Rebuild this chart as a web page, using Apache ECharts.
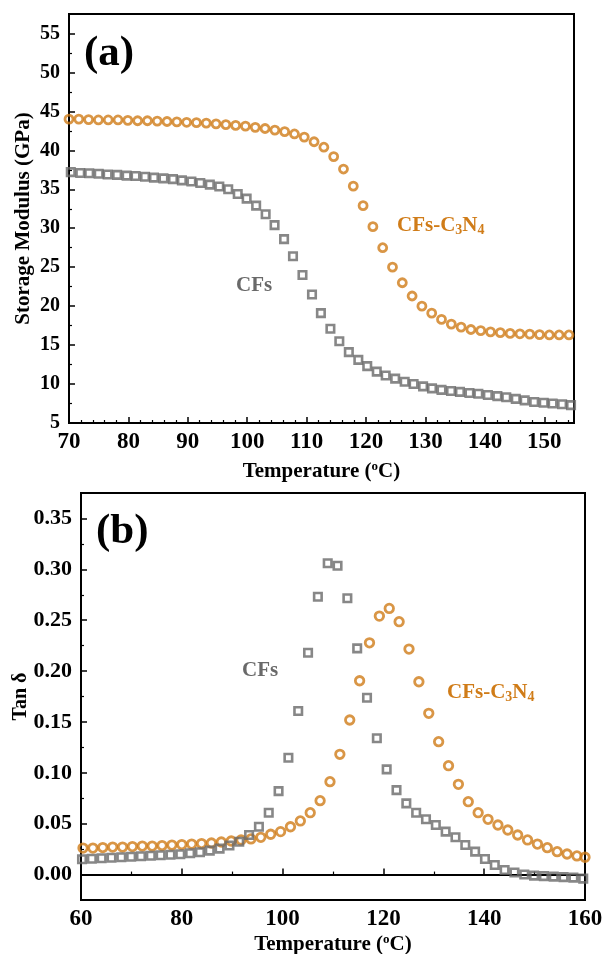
<!DOCTYPE html>
<html>
<head>
<meta charset="utf-8">
<script src="https://cdn.jsdelivr.net/npm/echarts@6/dist/echarts.min.js"></script>
<style>
html,body{margin:0;padding:0;background:#fff;}
#chart{width:604px;height:954px;}
</style>
</head>
<body>
<div id="chart"></div>
<script>
// ---------- (a) Storage modulus ----------
const tempA_C3N4 = [70.0,71.65,73.3,74.95,76.6,78.25,79.9,81.55,83.2,84.85,86.5,88.15,89.8,91.45,93.1,94.75,96.4,98.05,99.7,101.35,103.0,104.65,106.3,107.95,109.6,111.25,112.9,114.55,116.2,117.85,119.5,121.15,122.8,124.45,126.1,127.75,129.4,131.05,132.7,134.35,136.0,137.65,139.3,140.95,142.6,144.25,145.9,147.55,149.2,150.85,152.5,154.15];
const modA_C3N4 = [44.0,44.0,43.95,43.9,43.9,43.9,43.85,43.8,43.8,43.75,43.7,43.65,43.6,43.55,43.5,43.4,43.3,43.2,43.1,42.95,42.8,42.6,42.4,42.1,41.7,41.1,40.4,39.2,37.6,35.4,32.9,30.2,27.5,25.0,23.0,21.3,20.0,19.1,18.3,17.7,17.3,17.0,16.85,16.7,16.6,16.5,16.45,16.4,16.35,16.3,16.3,16.3];
const tempA_CF = [70.3,71.9,73.4,75.0,76.5,78.1,79.7,81.2,82.8,84.3,85.9,87.5,89.0,90.6,92.1,93.7,95.3,96.8,98.4,99.9,101.5,103.1,104.6,106.2,107.7,109.3,110.9,112.4,114.0,115.5,117.1,118.7,120.2,121.8,123.3,124.9,126.5,128.0,129.6,131.1,132.7,134.3,135.8,137.4,138.9,140.5,142.1,143.6,145.2,146.7,148.3,149.9,151.4,153.0,154.5];
const modA_CF = [37.2,37.1,37.05,37.0,36.9,36.85,36.75,36.7,36.6,36.5,36.4,36.3,36.15,36.0,35.8,35.6,35.35,35.0,34.4,33.8,32.9,31.8,30.4,28.6,26.4,24.0,21.5,19.1,17.1,15.5,14.1,13.1,12.3,11.6,11.1,10.7,10.3,10.0,9.7,9.45,9.25,9.1,9.0,8.85,8.75,8.6,8.45,8.3,8.1,7.9,7.7,7.6,7.5,7.4,7.3];

// ---------- (b) Tan delta ----------
const tempB_C3N4 = [60.4,62.36,64.32,66.28,68.24,70.2,72.16,74.12,76.08,78.04,80.0,81.96,83.92,85.88,87.84,89.8,91.76,93.72,95.68,97.64,99.6,101.56,103.52,105.48,107.44,109.4,111.36,113.32,115.28,117.24,119.2,121.16,123.12,125.08,127.04,129.0,130.96,132.92,134.88,136.84,138.8,140.76,142.72,144.68,146.64,148.6,150.56,152.52,154.48,156.44,158.4,160.0];
const tanB_C3N4 = [0.026,0.026,0.0265,0.027,0.027,0.0275,0.028,0.028,0.0285,0.029,0.0295,0.030,0.0305,0.031,0.032,0.033,0.034,0.035,0.0366,0.0396,0.0422,0.047,0.0527,0.0608,0.0726,0.0913,0.1182,0.1519,0.1905,0.2278,0.254,0.2616,0.2485,0.2216,0.1895,0.1585,0.1306,0.107,0.0887,0.0716,0.0608,0.0543,0.0487,0.0438,0.0389,0.034,0.030,0.0264,0.0225,0.0202,0.0183,0.017];
const tempB_CF = [60.2,62.15,64.1,66.05,68.0,69.95,71.9,73.85,75.8,77.75,79.7,81.65,83.6,85.55,87.5,89.45,91.4,93.35,95.3,97.25,99.2,101.15,103.1,105.05,107.0,108.95,110.9,112.85,114.8,116.75,118.7,120.65,122.6,124.55,126.5,128.45,130.4,132.35,134.3,136.25,138.2,140.15,142.1,144.05,146.0,147.95,149.9,151.85,153.8,155.75,157.7,159.65];
const tanB_CF = [0.015,0.0155,0.016,0.0165,0.017,0.0175,0.018,0.0185,0.019,0.0195,0.020,0.021,0.022,0.0235,0.0255,0.0285,0.0323,0.0389,0.047,0.0608,0.082,0.1148,0.1607,0.218,0.273,0.306,0.3035,0.2716,0.2223,0.1738,0.1339,0.1034,0.083,0.070,0.0608,0.0543,0.0487,0.0422,0.0366,0.029,0.0225,0.0153,0.0094,0.0045,0.002,0.0,-0.001,-0.0015,-0.002,-0.0025,-0.003,-0.004];

const ORANGE = '#D07C18';
const GREY = '#696969';
const FONT = 'Liberation Serif';

const pairs = (xs, ys) => xs.map((x, i) => [x, ys[i]]);

const chart = echarts.init(document.getElementById('chart'), null, {renderer: 'canvas'});

const tickLabel = (size) => ({fontFamily: FONT, fontWeight: 'bold', fontSize: size, color: '#000'});
const axisLineStyle = {show: true, lineStyle: {color: '#000', width: 2}};
const xName = {
  rich: {
    a: {fontFamily: FONT, fontWeight: 'bold', fontSize: 21, color: '#000'},
    s: {fontFamily: FONT, fontWeight: 'bold', fontSize: 13, color: '#000', padding: [0, 0, 10, 0]}
  }
};
const subRich = {
  m: {fontFamily: FONT, fontWeight: 'bold', fontSize: 21, fill: ORANGE, color: ORANGE},
  s: {fontFamily: FONT, fontWeight: 'bold', fontSize: 14, fill: ORANGE, color: ORANGE, padding: [10, 0, 0, 0]}
};

const option = {
  backgroundColor: '#fff',
  animation: false,
  grid: [
    {left: 69, top: 14, width: 505, height: 409, show: true, borderColor: '#000', borderWidth: 2, backgroundColor: 'transparent', containLabel: false, outerBoundsMode: 'none'},
    {left: 81, top: 493, width: 504, height: 407, show: true, borderColor: '#000', borderWidth: 2, backgroundColor: 'transparent', containLabel: false, outerBoundsMode: 'none'}
  ],
  xAxis: [
    {
      gridIndex: 0, type: 'value', min: 70, max: 155, interval: 10,
      axisLine: axisLineStyle,
      axisTick: {show: true, inside: true, length: 6, lineStyle: {color: '#000', width: 1.5}},
      minorTick: {show: true, splitNumber: 5, length: 3, lineStyle: {color: '#000', width: 1.2}},
      splitLine: {show: false},
      axisLabel: Object.assign({margin: 8, formatter: v => (Math.abs(v % 10) < 1e-6 ? String(v) : '')}, tickLabel(23)),
      name: '{a|Temperature (}{s|o}{a|C)}', nameLocation: 'middle', nameGap: 37, nameMoveOverlap: false,
      nameTextStyle: xName
    },
    {
      gridIndex: 1, type: 'value', min: 60, max: 160, interval: 20,
      axisLine: axisLineStyle,
      axisTick: {show: true, inside: true, length: 6, lineStyle: {color: '#000', width: 1.5}},
      minorTick: {show: true, splitNumber: 2, length: 3, lineStyle: {color: '#000', width: 1.2}},
      splitLine: {show: false},
      axisLabel: Object.assign({margin: 8}, tickLabel(23)),
      name: '{a|Temperature (}{s|o}{a|C)}', nameLocation: 'middle', nameGap: 33, nameMoveOverlap: false,
      nameTextStyle: xName
    }
  ],
  yAxis: [
    {
      gridIndex: 0, type: 'value', min: 5, max: 57.5, interval: 5,
      axisLine: axisLineStyle,
      axisTick: {show: true, inside: true, length: 6, lineStyle: {color: '#000', width: 1.5}},
      minorTick: {show: true, splitNumber: 2, length: 3, lineStyle: {color: '#000', width: 1.2}},
      splitLine: {show: false},
      axisLabel: Object.assign({margin: 9, formatter: v => (Math.abs(v % 5) < 1e-6 && v <= 55 ? String(v) : '')}, tickLabel(20)),
      name: 'Storage Modulus (GPa)', nameLocation: 'middle', nameGap: 35, nameMoveOverlap: false,
      nameTextStyle: {fontFamily: FONT, fontWeight: 'bold', fontSize: 21, color: '#000'}
    },
    {
      gridIndex: 1, type: 'value', min: -0.025, max: 0.375, splitNumber: 8,
      axisLine: axisLineStyle,
      axisTick: {show: true, inside: true, length: 6, lineStyle: {color: '#000', width: 1.5}},
      minorTick: {show: true, splitNumber: 2, length: 3, lineStyle: {color: '#000', width: 1.2}},
      splitLine: {show: false},
      axisLabel: Object.assign({margin: 9, formatter: v => {
        const r = Math.round(v * 1000);
        return (r % 50 === 0 && r >= 0 && r <= 350) ? (r / 1000).toFixed(2) : '';
      }}, tickLabel(22)),
      name: 'Tan δ', nameLocation: 'middle', nameGap: 50, nameMoveOverlap: false,
      nameTextStyle: {fontFamily: FONT, fontWeight: 'bold', fontSize: 20, color: '#000'}
    }
  ],
  series: [
    {
      name: 'CFs-C3N4 (a)', type: 'scatter', xAxisIndex: 0, yAxisIndex: 0,
      symbol: 'circle', symbolSize: 8,
      itemStyle: {color: 'rgba(255,255,255,0)', borderColor: ORANGE, borderWidth: 2.8},
      data: pairs(tempA_C3N4, modA_C3N4)
    },
    {
      name: 'CFs (a)', type: 'scatter', xAxisIndex: 0, yAxisIndex: 0,
      symbol: 'rect', symbolSize: 7.5,
      itemStyle: {color: 'rgba(255,255,255,0)', borderColor: GREY, borderWidth: 2.6},
      data: pairs(tempA_CF, modA_CF)
    },
    {
      name: 'CFs-C3N4 (b)', type: 'scatter', xAxisIndex: 1, yAxisIndex: 1,
      symbol: 'circle', symbolSize: 8.5,
      itemStyle: {color: 'rgba(255,255,255,0)', borderColor: ORANGE, borderWidth: 2.8},
      data: pairs(tempB_C3N4, tanB_C3N4)
    },
    {
      name: 'CFs (b)', type: 'scatter', xAxisIndex: 1, yAxisIndex: 1,
      symbol: 'rect', symbolSize: 7.5,
      itemStyle: {color: 'rgba(255,255,255,0)', borderColor: GREY, borderWidth: 2.6},
      data: pairs(tempB_CF, tanB_CF)
    }
  ],
  graphic: [
    {type: 'text', left: 84, top: 32, style: {text: '(a)', font: 'bold 43px "Liberation Serif"', fill: '#000'}},
    {type: 'text', left: 96, top: 510, style: {text: '(b)', font: 'bold 43px "Liberation Serif"', fill: '#000'}},
    {type: 'text', left: 236, top: 275, style: {text: 'CFs', font: 'bold 21px "Liberation Serif"', fill: GREY}},
    {type: 'text', left: 242, top: 660, style: {text: 'CFs', font: 'bold 21px "Liberation Serif"', fill: GREY}},
    {type: 'text', left: 397, top: 215, style: {text: '{m|CFs-C}{s|3}{m|N}{s|4}', rich: subRich}},
    {type: 'text', left: 447, top: 682, style: {text: '{m|CFs-C}{s|3}{m|N}{s|4}', rich: subRich}}
  ]
};
chart.setOption(option);
</script>
</body>
</html>
